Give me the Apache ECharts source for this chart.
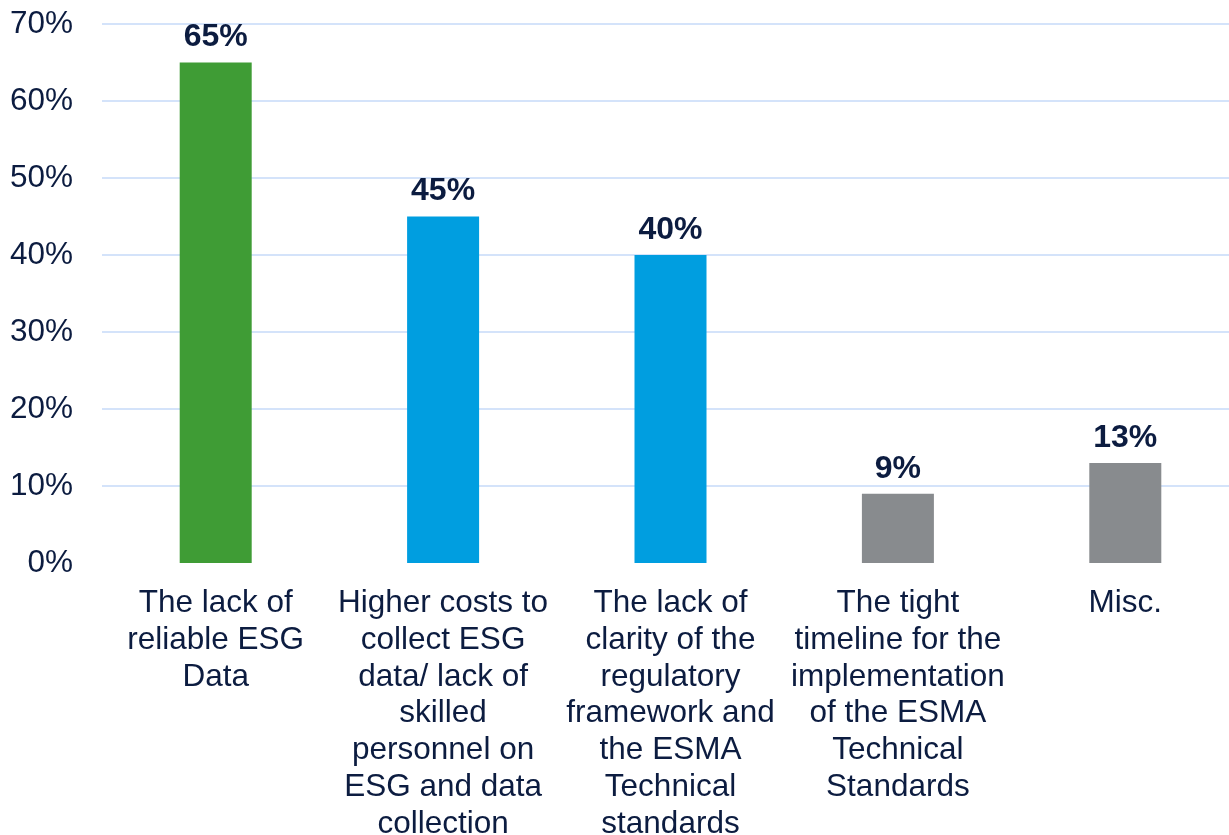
<!DOCTYPE html>
<html>
<head>
<meta charset="utf-8">
<script src="https://cdn.jsdelivr.net/npm/echarts@6/dist/echarts.min.js"></script>
<style>html,body{margin:0;padding:0;background:#fff}#c{width:1229px;height:835px}</style>
</head>
<body>
<div id="c"></div>
<script>
const categories = [
  "The lack of\nreliable ESG\nData",
  "Higher costs to\ncollect ESG\ndata/ lack of\nskilled\npersonnel on\nESG and data\ncollection",
  "The lack of\nclarity of the\nregulatory\nframework and\nthe ESMA\nTechnical\nstandards",
  "The tight\ntimeline for the\nimplementation\nof the ESMA\nTechnical\nStandards",
  "Misc."
];
const values = [65, 45, 40, 9, 13];
const barColors = ["#3f9c35", "#009ee0", "#009ee0", "#888b8e", "#888b8e"];
const yTicks = [0, 10, 20, 30, 40, 50, 60, 70];

const textColor = "#0c1c40";
const chart = echarts.init(document.getElementById('c'));
chart.setOption({
  animation: false,
  grid: { left: 102, right: -10, top: 24, bottom: 272, outerBoundsMode: 'none', containLabel: false },
  xAxis: {
    type: 'category',
    data: categories,
    axisLine: { show: false },
    axisTick: { show: false },
    axisLabel: {
      interval: 0,
      margin: 22,
      color: textColor,
      fontFamily: '"Liberation Sans", Arial, sans-serif',
      fontSize: 31.5,
      lineHeight: 36.8,
      align: 'center'
    }
  },
  yAxis: {
    type: 'value',
    min: yTicks[0],
    max: yTicks[yTicks.length - 1],
    interval: 10,
    axisLine: { show: false },
    axisTick: { show: false },
    axisLabel: {
      margin: 29,
      color: textColor,
      fontFamily: '"Liberation Sans", Arial, sans-serif',
      fontSize: 31.5,
      formatter: v => v + '%'
    },
    splitLine: { show: true, showMinLine: false, lineStyle: { color: '#d4e3fa', width: 2 } }
  },
  series: [{
    type: 'bar',
    barWidth: 72,
    data: values.map((v, i) => ({ value: v, itemStyle: { color: barColors[i] } })),
    label: {
      show: true,
      position: 'top',
      distance: 9,
      color: textColor,
      fontFamily: '"Liberation Sans", Arial, sans-serif',
      fontWeight: 'bold',
      fontSize: 32,
      formatter: p => p.value + '%'
    }
  }]
});
</script>
</body>
</html>
